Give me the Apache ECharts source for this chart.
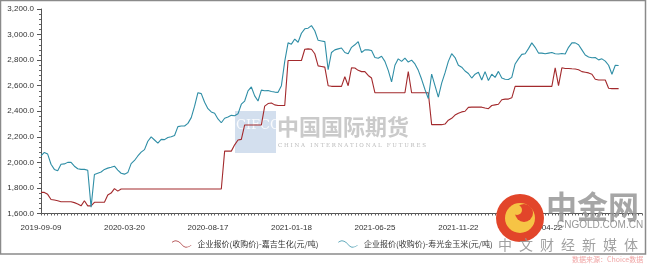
<!DOCTYPE html>
<html>
<head>
<meta charset="utf-8">
<script src="https://cdn.jsdelivr.net/npm/echarts@6/dist/echarts.min.js"></script>
<style>
html,body{margin:0;padding:0;background:#fff;}
#chart{width:650px;height:266px;}
</style>
</head>
<body>
<div id="chart"></div>
<script>
// ---- data ----
const xTickLabels = ['2019-09-09','2020-03-20','2020-08-17','2021-01-18','2021-06-25','2021-11-22','2022-04-22'];
const pointsPerTick = 25;
const categoryCount = 181;
const seriesNames = ['企业报价(收购价)-嘉吉生化(元/吨)', '企业报价(收购价)-寿光金玉米(元/吨)'];

const jiajiPrice = [
1765,1765,1750,1710,1705,1700,1692,1692,1692,1692,
1685,1675,1660,1700,1660,1660,1688,1688,1688,1688,
1745,1760,1795,1775,1792,1792,1792,1792,1792,1792,
1792,1792,1792,1792,1792,1792,1792,1792,1792,1792,
1792,1792,1792,1792,1792,1792,1792,1792,1792,1792,
1792,1792,1792,1792,1792,2088,2088,2088,2137,2175,
2180,2293,2293,2293,2293,2293,2293,2440,2460,2465,
2450,2445,2445,2445,2797,2797,2797,2797,2797,2885,
2888,2885,2850,2755,2750,2745,2600,2595,2595,2595,
2595,2670,2600,2740,2738,2720,2710,2710,2680,2660,
2545,2545,2545,2545,2545,2545,2545,2545,2545,2545,
2710,2545,2545,2545,2545,2545,2545,2295,2295,2295,
2295,2300,2330,2345,2370,2385,2395,2400,2430,2432,
2432,2432,2432,2425,2420,2445,2450,2455,2490,2495,
2495,2505,2595,2595,2595,2595,2595,2595,2595,2595,
2595,2595,2595,2595,2740,2600,2740,2735,2735,2732,
2730,2725,2710,2705,2700,2690,2650,2645,2645,2645,
2580,2577,2577,2577
];

const shouguangPrice = [
2050,2078,2065,1985,1945,1935,1985,1988,2000,2000,
1970,1950,1945,1945,1938,1650,1905,1915,1925,1945,
1955,1962,1970,1940,1915,1908,1920,1990,2015,2050,
2080,2100,2165,2200,2175,2150,2180,2178,2195,2200,
2210,2280,2285,2285,2305,2350,2440,2545,2538,2470,
2420,2395,2385,2340,2310,2345,2355,2368,2365,2380,
2455,2480,2560,2590,2520,2480,2565,2560,2562,2555,
2550,2548,2600,2790,2935,2925,2965,2940,3010,3045,
3050,3070,3030,2955,2950,2945,2725,2860,2880,2888,
2895,2860,2850,2900,2920,2945,2860,2880,2880,2875,
2820,2815,2830,2790,2720,2630,2760,2810,2790,2815,
2785,2800,2770,2720,2650,2570,2500,2690,2600,2510,
2620,2700,2790,2850,2820,2760,2745,2715,2695,2660,
2690,2705,2645,2710,2640,2690,2665,2712,2660,2650,
2648,2665,2770,2810,2845,2850,2890,2935,2900,2855,
2855,2850,2855,2860,2850,2848,2852,2848,2900,2935,
2935,2920,2880,2840,2825,2818,2820,2802,2810,2792,
2760,2690,2760,2758
];

const yMin = 1600, yMax = 3200, yStep = 200;

// ---- build categories ----
const categories = [];
for (let i = 0; i < categoryCount; i++) {
  const k = i / pointsPerTick;
  categories.push(Number.isInteger(k) && xTickLabels[k] ? xTickLabels[k] : 'd' + i);
}

function fmtY(v) {
  return Math.round(v).toString().replace(/\B(?=(\d{3})+(?!\d))/g, ',') + '.0';
}

const RED = '#a32a2d';
const TEAL = '#2f8ea6';
const waveIcon = 'path://M0,3 C4,0 7,1.5 10,5 C13,8.5 16,9 20,6 L20,6.7 C16,9.7 13,9.2 10,5.7 C7,2.2 4,0.7 0,3.7 Z';

const chart = echarts.init(document.getElementById('chart'), null, {renderer: 'canvas'});
chart.setOption({
  animation: false,
  backgroundColor: '#ffffff',
  textStyle: {fontFamily: 'Liberation Sans, Arial, sans-serif'},
  grid: {left: 41, right: 8, top: 9, bottom: 52.5, containLabel: false},
  xAxis: {
    type: 'category',
    data: categories,
    boundaryGap: false,
    axisLine: {lineStyle: {color: '#555', width: 1}},
    axisTick: {show: true, interval: 0, length: 2, lineStyle: {color: '#666'}},
    axisLabel: {
      interval: pointsPerTick - 1,
      margin: 10,
      fontSize: 8,
      color: '#333',
      formatter: v => (v.charAt(0) === 'd' ? '' : v)
    },
    splitLine: {show: false}
  },
  yAxis: {
    type: 'value',
    min: yMin, max: yMax, interval: yStep,
    axisLine: {show: true, lineStyle: {color: '#555', width: 1}},
    axisTick: {show: true, length: 4, lineStyle: {color: '#555'}},
    minorTick: {show: true, splitNumber: 5, length: 2, lineStyle: {color: '#666'}},
    splitLine: {show: false},
    axisLabel: {fontSize: 8, color: '#333', margin: 7, formatter: fmtY}
  },
  legend: {
    left: 167, top: 235,
    itemWidth: 20, itemHeight: 7, itemGap: 20,
    textStyle: {fontSize: 8, color: '#333', fontFamily: 'Noto Sans CJK SC, sans-serif', padding: [0, 0, 0, 1]},
    data: [
      {name: seriesNames[0], icon: waveIcon},
      {name: seriesNames[1], icon: waveIcon}
    ]
  },
  graphic: [
    // frame
    {type: 'rect', shape: {x: 0.5, y: 0.5, width: 645, height: 253.5}, style: {fill: 'none', stroke: '#8a8a8a', lineWidth: 1.5}, z: 0, silent: true},
    // CIFCO watermark
    {type: 'rect', shape: {x: 235, y: 111, width: 41, height: 42}, style: {fill: 'rgba(175,196,224,0.55)'}, z: 0, silent: true},
    {type: 'text', x: 236, y: 119, style: {text: 'CIFCO', fontSize: 13, fontFamily: 'DejaVu Serif, serif', fill: 'rgba(255,255,255,0.85)'}, z: 0, silent: true},
    {type: 'text', x: 277, y: 116, style: {text: '中国国际期货', fontSize: 22, fontWeight: 'bold', fontFamily: 'Noto Sans CJK SC, sans-serif', fill: 'rgba(180,180,180,0.7)'}, z: 0, silent: true},
    {type: 'text', x: 278, y: 143, style: {text: 'C H I N A   I N T E R N A T I O N A L   F U T U R E S', fontSize: 5.5, fontFamily: 'DejaVu Serif, serif', fill: 'rgba(170,170,170,0.8)'}, z: 0, silent: true},
    // cngold watermark
    {type: 'circle', shape: {cx: 520, cy: 218, r: 24}, style: {fill: '#e2452a'}, z: 100, silent: true},
    {type: 'circle', shape: {cx: 520, cy: 218, r: 15}, style: {fill: '#f6c445'}, z: 101, silent: true},
    {type: 'circle', shape: {cx: 524, cy: 213, r: 9}, style: {fill: '#e2452a'}, z: 102, silent: true},
    {type: 'circle', shape: {cx: 517, cy: 210, r: 5}, style: {fill: '#f6c445'}, z: 103, silent: true},
    {type: 'text', x: 546, y: 191, style: {text: '中金网', fontSize: 31, fontWeight: 'bold', fontFamily: 'Noto Sans CJK SC, sans-serif', fill: 'rgba(150,150,150,0.85)'}, z: 100, silent: true},
    {type: 'text', x: 557, y: 220, style: {text: 'CNGOLD.COM.CN', fontSize: 10, fontFamily: 'Liberation Sans, sans-serif', fill: 'rgba(140,140,140,0.9)'}, z: 100, silent: true},
    {type: 'text', x: 498, y: 238, style: {text: '中\u2002文\u2002财\u2002经\u2002新\u2002媒\u2002体', fontSize: 14, fontFamily: 'Noto Sans CJK SC, sans-serif', fill: 'rgba(150,150,150,0.9)'}, z: 100, silent: true},
    {type: 'text', x: 572, y: 256, style: {text: '数据来源：Choice数据', fontSize: 7, fontFamily: 'Noto Sans CJK SC, sans-serif', fill: '#f0a5a5'}, z: 100, silent: true}
  ],
  series: [
    {
      name: seriesNames[0], type: 'line', data: jiajiPrice,
      showSymbol: false, symbol: 'none',
      lineStyle: {color: RED, width: 1.1}, itemStyle: {color: RED}
    },
    {
      name: seriesNames[1], type: 'line', data: shouguangPrice,
      showSymbol: false, symbol: 'none',
      lineStyle: {color: TEAL, width: 1.1}, itemStyle: {color: TEAL}
    }
  ]
});
</script>
</body>
</html>
